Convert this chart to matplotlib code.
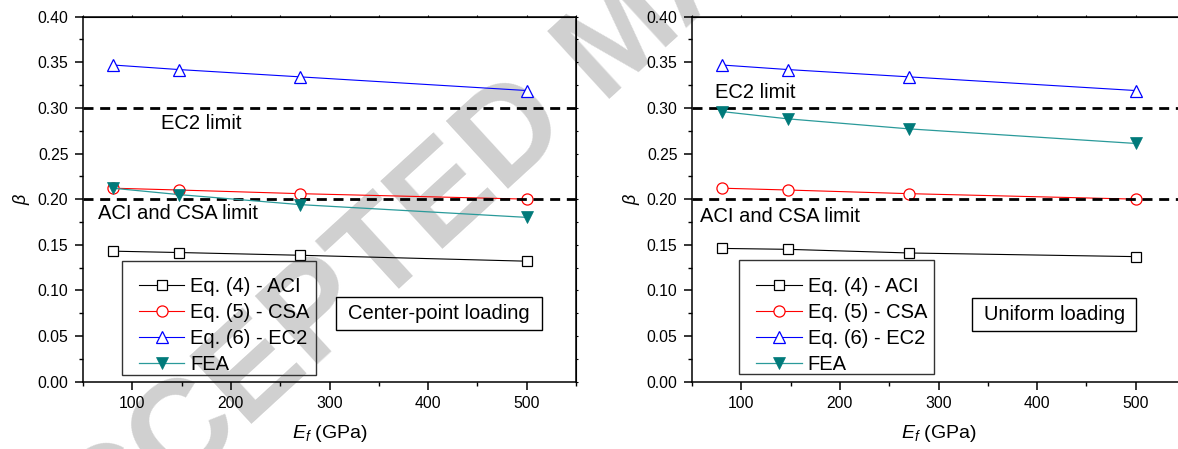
import numpy as np
import matplotlib
matplotlib.use("Agg")
import matplotlib.pyplot as plt
from matplotlib.patches import Rectangle
from matplotlib.ticker import MultipleLocator, FormatStrFormatter

plt.rcParams['font.family'] = ['Liberation Sans', 'DejaVu Sans']
plt.rcParams['mathtext.fontset'] = 'custom'
plt.rcParams['mathtext.rm'] = 'Liberation Sans'
plt.rcParams['mathtext.it'] = 'Liberation Sans:italic'

# Data
Ef = [80, 147, 270, 500]  # GPa

# Center-point loading
aci_c = [0.143, 0.1415, 0.1385, 0.132]
csa_c = [0.212, 0.210, 0.206, 0.200]
ec2_c = [0.347, 0.342, 0.334, 0.319]
fea_c = [0.212, 0.205, 0.194, 0.180]

# Uniform loading
aci_u = [0.146, 0.145, 0.141, 0.137]
csa_u = [0.212, 0.210, 0.206, 0.200]
ec2_u = [0.347, 0.342, 0.334, 0.319]
fea_u = [0.296, 0.288, 0.277, 0.261]

labels = ['Eq. (4) - ACI', 'Eq. (5) - CSA', 'Eq. (6) - EC2', 'FEA']
limit_ec2 = 0.30
limit_aci = 0.20

fig = plt.figure(figsize=(11.78, 4.49), dpi=100)

# watermark
wm = dict(color='#d0d0d0', fontsize=96, fontweight='bold', rotation=42.5,
          rotation_mode='anchor', va='center', zorder=-5)
fig.text(0.466, 0.775, 'ACCEPTED', ha='right', **wm)
fig.text(0.490, 0.835, 'MANUSCRIPT', ha='left', **wm)

ax1 = fig.add_axes([83 / 1178, 0.150, 493 / 1178, 0.813])
ax2 = fig.add_axes([692 / 1178, 0.150, 493 / 1178, 0.813])


def draw_panel(ax, aci, csa, ec2, fea, panel):
    ax.patch.set_alpha(0)
    ax.plot(Ef, aci, '-s', color='black', lw=0.8, ms=7.5, mfc='white', mec='black', mew=0.9, label=labels[0])
    ax.plot(Ef, csa, '-o', color='red', lw=0.8, ms=8, mfc='white', mec='red', mew=0.9, label=labels[1])
    ax.plot(Ef, ec2, '-^', color='blue', lw=0.8, ms=9, mfc='white', mec='blue', mew=0.9, label=labels[2])
    ax.plot(Ef, fea, '-v', color='#2a9a9a', lw=0.9, ms=9, mfc='#007a7a', mec='#007a7a', mew=0.5, label=labels[3],
            zorder=4)
    for yv in (limit_ec2, limit_aci):
        ax.axhline(yv, color='black', lw=2, dashes=(3.6, 2.4), zorder=3)

    ax.set_xlim(50, 550)
    ax.set_ylim(0, 0.40)
    ax.xaxis.set_major_locator(MultipleLocator(100))
    ax.xaxis.set_minor_locator(MultipleLocator(50))
    ax.yaxis.set_major_locator(MultipleLocator(0.05))
    ax.yaxis.set_minor_locator(MultipleLocator(0.025))
    ax.yaxis.set_major_formatter(FormatStrFormatter('%.2f'))
    ax.tick_params(which='major', direction='out', length=5.5, width=1.1, labelsize=11.3, pad=5)
    ax.tick_params(which='minor', direction='out', length=3, width=1.0)
    for s in ax.spines.values():
        s.set_linewidth(1.1)

    # small ticks on top and right
    top = ax.secondary_xaxis('top')
    top.xaxis.set_major_locator(MultipleLocator(50))
    top.tick_params(direction='out', length=1.5, width=0.8, labeltop=False)
    right = ax.secondary_yaxis('right')
    right.yaxis.set_major_locator(MultipleLocator(0.025))
    right.tick_params(direction='out', length=1.5, width=0.8, labelright=False)

    ax.set_xlabel(r'$E_f$ (GPa)', fontsize=14)
    ax.xaxis.set_label_coords(0.5, -0.113)
    ax.set_ylabel(r'$\beta$', fontsize=13)

    if panel == 'c':
        ax.yaxis.set_label_coords(-0.1025, 0.5)
        ax.text(129, 0.283, 'EC2 limit', fontsize=14.5, ha='left', va='center')
        ax.text(65.6, 0.184, 'ACI and CSA limit', fontsize=14.5, ha='left', va='center')
        box = (0.0794, 0.018, 0.4736 - 0.0794, 0.330 - 0.018)
        hx = 0.1138
        tbox = (307, 0.0567, 515.7 - 307, 0.0926 - 0.0567)
        ttext = 'Center-point loading'
    else:
        ax.yaxis.set_label_coords(-0.1005, 0.5)
        ax.text(73.7, 0.3166, 'EC2 limit', fontsize=14.5, ha='left', va='center')
        ax.text(58.5, 0.181, 'ACI and CSA limit', fontsize=14.5, ha='left', va='center')
        box = (0.096, 0.021, 0.49 - 0.096, 0.334 - 0.021)
        hx = 0.1305
        tbox = (334, 0.056, 500.8 - 334, 0.0919 - 0.056)
        ttext = 'Uniform loading'

    ax.add_patch(Rectangle(box[:2], box[2], box[3], transform=ax.transAxes, fill=False,
                           ec='#333333', lw=1.0, zorder=5))
    ax.legend(loc='center left', bbox_to_anchor=(hx, 0.154), frameon=False, fontsize=14.5,
              handlelength=2.25, handletextpad=0.3, labelspacing=0.35, borderpad=0,
              borderaxespad=0)
    ax.add_patch(Rectangle(tbox[:2], tbox[2], tbox[3], fill=False, ec='black', lw=1.0, zorder=5))
    ax.text(tbox[0] + tbox[2] / 2, tbox[1] + tbox[3] / 2, ttext, fontsize=14.5, ha='center', va='center')


draw_panel(ax1, aci_c, csa_c, ec2_c, fea_c, 'c')
draw_panel(ax2, aci_u, csa_u, ec2_u, fea_u, 'u')

fig.savefig('out.png', dpi=100)
